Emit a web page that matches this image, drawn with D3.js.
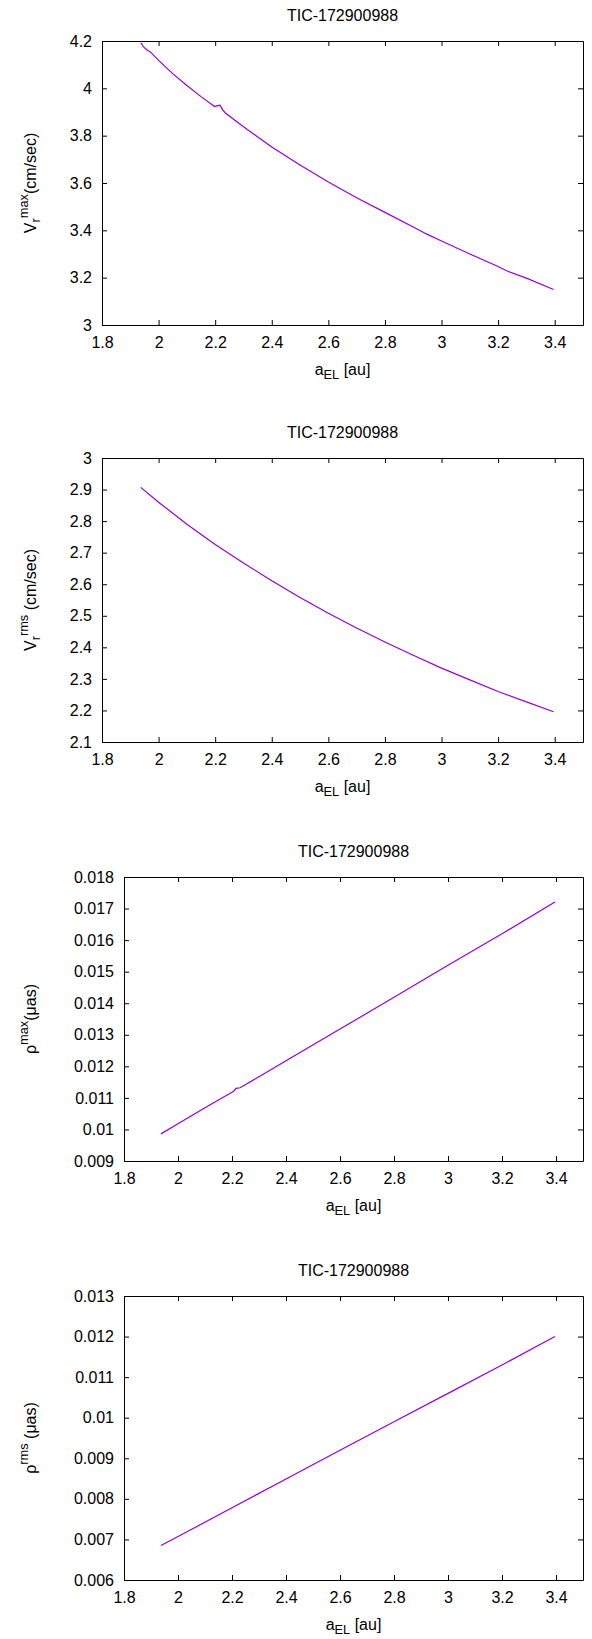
<!DOCTYPE html>
<html>
<head>
<meta charset="utf-8">
<script src="https://cdn.jsdelivr.net/npm/d3@7"></script>
<style>
  body { margin: 0; background: #fff; }
  svg { display: block; }
  text { font-family: "Liberation Sans", Arial, sans-serif; fill: #000; }
</style>
</head>
<body>
<div id="chart"></div>
<script>
// values
const title = 'TIC-172900988';
const xTicks = [1.8, 2, 2.2, 2.4, 2.6, 2.8, 3, 3.2, 3.4];

// V_r max (cm/sec)
const aVmax = [1.938, 1.945, 1.952, 1.962, 1.970, 2.0, 2.05, 2.1, 2.15, 2.198, 2.206, 2.217, 2.226, 2.235,
  2.3, 2.4, 2.5, 2.6, 2.7, 2.8, 2.9, 2.94, 2.95, 3.0, 3.1, 3.2, 3.23, 3.3, 3.396];
const vMax = [4.192, 4.178, 4.169, 4.160, 4.155, 4.118, 4.062, 4.012, 3.965, 3.923, 3.926, 3.929, 3.910, 3.897,
  3.838, 3.752, 3.676, 3.604, 3.538, 3.476, 3.414, 3.389, 3.383, 3.355, 3.300, 3.247, 3.229, 3.198, 3.150];
const vMaxTicks = [3, 3.2, 3.4, 3.6, 3.8, 4, 4.2];

// V_r rms (cm/sec)
const aVrms = [1.937, 2.0, 2.1, 2.2, 2.3, 2.4, 2.5, 2.6, 2.7, 2.8, 2.9, 3.0, 3.1, 3.2, 3.3, 3.396];
const vRms = [2.907, 2.860, 2.790, 2.726, 2.667, 2.611, 2.558, 2.508, 2.461, 2.417, 2.375, 2.334, 2.297, 2.260, 2.227, 2.196];
const vRmsTicks = [2.1, 2.2, 2.3, 2.4, 2.5, 2.6, 2.7, 2.8, 2.9, 3];

// rho max (muas)
const aRhoMax = [1.937, 2.0, 2.1, 2.2, 2.207, 2.215, 2.23, 2.3, 2.4, 2.6, 2.8, 3.0, 3.2, 3.396];
const rhoMax = [0.00986, 0.01018, 0.01069, 0.01118, 0.01122, 0.01130, 0.01132, 0.01167, 0.01218, 0.01318, 0.01419, 0.01520, 0.01620, 0.01721];
const rhoMaxTicks = [0.009, 0.01, 0.011, 0.012, 0.013, 0.014, 0.015, 0.016, 0.017, 0.018];

// rho rms (muas)
const aRhoRms = [1.937, 2.0, 2.2, 2.4, 2.6, 2.8, 3.0, 3.2, 3.396];
const rhoRms = [0.00685, 0.00707, 0.00778, 0.00849, 0.00920, 0.00990, 0.01060, 0.01130, 0.01200];
const rhoRmsTicks = [0.006, 0.007, 0.008, 0.009, 0.01, 0.011, 0.012, 0.013];

const width = 592, height = 1639;
const fontSize = 16, tickLen = 5;
const lineColor = '#9400d3';

const svg = d3.select('#chart').append('svg')
    .attr('width', width)
    .attr('height', height);

// y label pieces: [text, 'n' | 'sub' | 'sup']
const panels = [
  { a: aVmax, v: vMax, ticks: vMaxTicks, top: 41, left: 102,
    ylab: [['V', 'n'], ['r', 'sub'], ['max', 'sup'], ['(cm/sec)', 'n']] },
  { a: aVrms, v: vRms, ticks: vRmsTicks, top: 458, left: 102,
    ylab: [['V', 'n'], ['r', 'sub'], ['rms', 'sup'], [' (cm/sec)', 'n']] },
  { a: aRhoMax, v: rhoMax, ticks: rhoMaxTicks, top: 877, left: 124,
    ylab: [['ρ', 'n'], ['max', 'sup'], ['(μas)', 'n']] },
  { a: aRhoRms, v: rhoRms, ticks: rhoRmsTicks, top: 1296, left: 124,
    ylab: [['ρ', 'n'], ['rms', 'sup'], [' (μas)', 'n']] }
];

const fmt = d => String(+d.toFixed(4));
const right = 583, plotH = 284;

// shift in px for sub/superscript, from the normal baseline
const shift = { n: 0, sub: 4, sup: -8 };

function richText(sel, parts) {
  let cur = 0;
  parts.forEach(([t, kind]) => {
    const target = shift[kind];
    sel.append('tspan')
      .attr('dy', target - cur)
      .style('font-size', kind === 'n' ? fontSize + 'px' : (fontSize * 0.8) + 'px')
      .text(t);
    cur = target;
  });
}

panels.forEach(p => {
  const g = svg.append('g');
  const x = d3.scaleLinear().domain([1.8, 3.5]).range([p.left, right]);
  const y = d3.scaleLinear().domain(d3.extent(p.ticks)).range([p.top + plotH, p.top]);

  // axes with inward ticks, mirrored on top and right
  const bottom = g.append('g')
      .attr('transform', `translate(0,${p.top + plotH})`)
      .call(d3.axisBottom(x).tickValues(xTicks).tickFormat(fmt)
        .tickSize(-tickLen).tickSizeOuter(0).tickPadding(12));
  g.append('g')
      .attr('transform', `translate(0,${p.top})`)
      .call(d3.axisTop(x).tickValues(xTicks).tickFormat('')
        .tickSize(-tickLen).tickSizeOuter(0));
  const leftAx = g.append('g')
      .attr('transform', `translate(${p.left},0)`)
      .call(d3.axisLeft(y).tickValues(p.ticks).tickFormat(fmt)
        .tickSize(-tickLen).tickSizeOuter(0).tickPadding(10));
  g.append('g')
      .attr('transform', `translate(${right},0)`)
      .call(d3.axisRight(y).tickValues(p.ticks).tickFormat('')
        .tickSize(-tickLen).tickSizeOuter(0));

  g.selectAll('.tick text')
      .style('font-size', fontSize + 'px')
      .style('font-family', '"Liberation Sans", Arial, sans-serif');

  // the curve
  const pts = p.a.map((d, i) => [d, p.v[i]]);
  g.append('path')
      .datum(pts)
      .attr('fill', 'none')
      .attr('stroke', lineColor)
      .attr('stroke-width', 1.2)
      .attr('d', d3.line().x(d => x(d[0])).y(d => y(d[1])));

  // title
  g.append('text')
      .attr('x', (p.left + right) / 2)
      .attr('y', p.top - 20)
      .attr('text-anchor', 'middle')
      .style('font-size', fontSize + 'px')
      .text(title);

  // x label
  const xl = g.append('text')
      .attr('x', (p.left + right) / 2)
      .attr('y', p.top + plotH + 50)
      .attr('text-anchor', 'middle')
      .style('font-size', fontSize + 'px');
  richText(xl, [['a', 'n'], ['EL', 'sub'], [' [au]', 'n']]);

  // y label
  const yl = g.append('text')
      .attr('transform', `translate(36,${p.top + plotH / 2}) rotate(-90)`)
      .attr('text-anchor', 'middle')
      .style('font-size', fontSize + 'px');
  richText(yl, p.ylab);
});
</script>
</body>
</html>
